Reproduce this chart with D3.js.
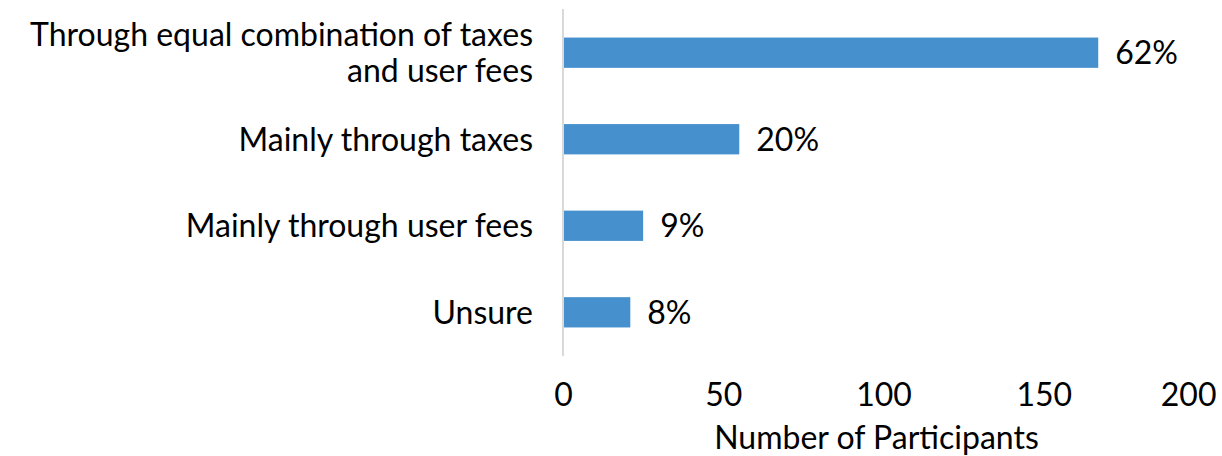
<!DOCTYPE html>
<html lang="en">
<head>
<meta charset="UTF-8">
<title>Funding preference</title>
<script src="https://cdn.jsdelivr.net/npm/d3@7/dist/d3.min.js"></script>
<style>
  body { margin: 0; background: #fff; }
  text { font-family: Lato, "Open Sans", sans-serif; fill: #000; }
</style>
</head>
<body>
<script type="text/javascript">
  var w = 1222;
  var h = 456;

  // data
  var categories = ["Through equal combination of taxes|and user fees", "Mainly through taxes", "Mainly through user fees", "Unsure"];
  var counts = [167, 55, 25, 21];
  var pctLabels = ["62%", "20%", "9%", "8%"];
  var xTicks = [0, 50, 100, 150, 200];

  var fs = 32;
  var plotL = 563, plotR = 1204, plotT = 9, plotB = 356;

  var xScale = d3.scaleLinear()
    .domain([0, 200])
    .range([plotL, plotR]);

  var yScale = d3.scaleBand()
    .domain(d3.range(categories.length))
    .range([plotT, plotB])
    .paddingInner(0.65)
    .paddingOuter(0.33);

  var svg = d3.select("body")
    .append("svg")
    .attr("width", w)
    .attr("height", h);

  //bars
  svg.selectAll("rect.bar")
    .data(counts)
    .enter()
    .append("rect")
    .attr("class", "bar")
    .attr("x", xScale(0))
    .attr("y", function(d, i) { return yScale(i); })
    .attr("width", function(d) { return xScale(d) - xScale(0); })
    .attr("height", yScale.bandwidth())
    .attr("fill", "#4590cd");

  //vertical axis line
  svg.append("line")
    .attr("x1", xScale(0)).attr("x2", xScale(0))
    .attr("y1", plotT).attr("y2", plotB)
    .attr("stroke", "#d9d9d9")
    .attr("stroke-width", 2);

  //value labels
  svg.selectAll("text.val")
    .data(counts)
    .enter()
    .append("text")
    .attr("class", "val")
    .attr("x", function(d) { return xScale(d) + 17; })
    .attr("y", function(d, i) { return yScale(i) + yScale.bandwidth() / 2; })
    .attr("dy", "0.36em")
    .attr("font-size", fs)
    .text(function(d, i) { return pctLabels[i]; });

  //category labels
  var cat = svg.selectAll("text.cat")
    .data(categories)
    .enter()
    .append("text")
    .attr("class", "cat")
    .attr("text-anchor", "end")
    .attr("font-size", fs)
    .attr("y", function(d, i) { return yScale(i) + yScale.bandwidth() / 2; });

  cat.each(function(d) {
    var lines = d.split("|");
    var t = d3.select(this);
    lines.forEach(function(l, k) {
      t.append("tspan")
        .attr("x", xScale(0) - 30)
        .attr("dy", k == 0 ? (0.36 - (lines.length - 1) * 0.56) + "em" : "1.12em")
        .text(l);
    });
  });

  //x axis tick labels
  var xAxis = d3.axisBottom(xScale)
    .tickValues(xTicks)
    .tickSize(0)
    .tickPadding(0);

  var gx = svg.append("g")
    .attr("transform", "translate(0,383)")
    .call(xAxis);
  gx.select(".domain").remove();
  gx.selectAll("text")
    .attr("font-size", fs)
    .attr("font-family", null)
    .attr("fill", "#000");
  gx.selectAll(".tick").filter(function(d) { return d == 200; })
    .select("text").attr("text-anchor", "end").attr("x", 1216 - xScale(200));

  //axis title
  svg.append("text")
    .attr("x", (xScale(0) + 1190) / 2)
    .attr("y", 449)
    .attr("text-anchor", "middle")
    .attr("font-size", fs)
    .text("Number of Participants");
</script>
</body>
</html>
